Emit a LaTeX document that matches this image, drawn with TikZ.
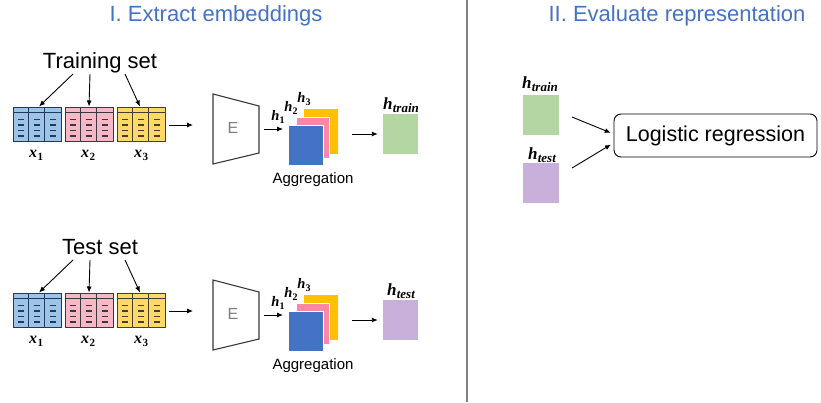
\documentclass[tikz,border=0pt]{standalone}
\usepackage{fontspec}
\setmainfont{Liberation Sans}
\newfontfamily\hfont{Liberation Serif}
\usetikzlibrary{arrows.meta}
\newcommand\mylabh[1]{{\hfont\bfseries\itshape\fontsize{17}{17}\selectfont h\kern0.3pt\raisebox{-3.5pt}{\fontsize{13}{13}\selectfont #1}}}
\newcommand\mylabk[1]{{\hfont\bfseries\itshape\fontsize{14.5}{14.5}\selectfont h\kern0.2pt\raisebox{-3pt}{\fontsize{10}{10}\selectfont\upshape #1}}}
\newcommand\mylabx[1]{{\hfont\bfseries\itshape\fontsize{16}{16}\selectfont x\kern0.5pt\raisebox{-3pt}{\fontsize{11}{11}\selectfont\upshape #1}}}
\definecolor{titleblue}{HTML}{4472C4}
\definecolor{tabblue}{HTML}{9DC3E6}
\definecolor{tabbluel}{HTML}{1F3A5F}
\definecolor{tabpink}{HTML}{F6B8C4}
\definecolor{tabpinkl}{HTML}{3F3540}
\definecolor{tabyel}{HTML}{FFD966}
\definecolor{tabyell}{HTML}{463E2C}
\definecolor{sqblue}{HTML}{4472C4}
\definecolor{sqpink}{HTML}{FF87A5}
\definecolor{sqyellow}{HTML}{FFC000}
\definecolor{sqgreen}{HTML}{B3D6A2}
\definecolor{sqpurple}{HTML}{C8B0DA}
\definecolor{divgray}{HTML}{808080}
\definecolor{egray}{HTML}{7F7F7F}
\definecolor{eline}{HTML}{3A3A3A}
\tikzset{
  pics/tabinner/.style={code={
    \draw[line width=0.8pt,#1] (0,6) -- (48,6) (16,0) -- (16,34) (32,0) -- (32,34);
    \foreach \cx in {8,24,40}{\foreach \ry in {13,18.5,24,29.5}{\draw[line width=1.5pt,#1] (\cx-3,\ry) -- (\cx+3,\ry);}}
  }},
}
\begin{document}
\begin{tikzpicture}[x=1pt,y=-1pt,
  arr/.style={line width=0.9pt,-{Latex[length=6pt,width=5pt]}},
  tab/.style={minimum width=48pt,minimum height=34pt,inner sep=0pt,line width=1pt,draw},
  sq/.style={inner sep=0pt,draw=white,line width=0.6pt},
  plainsq/.style={inner sep=0pt,minimum width=36pt,minimum height=40pt},
  title/.style={text=titleblue,font=\fontsize{22}{26}\selectfont,inner sep=0pt},
  big/.style={font=\fontsize{22}{26}\selectfont,inner sep=0pt},
  agg/.style={font=\fontsize{15}{18}\selectfont,inner sep=0pt},
  hlab/.style={inner sep=0pt},
  xlab/.style={inner sep=0pt},
  elab/.style={text=egray,font=\fontsize{16}{18}\selectfont,inner sep=0pt},
  encline/.style={draw=eline,line width=1.1pt,line join=miter},
  divider/.style={draw=divgray,line width=1.2pt},
  lrbox/.style={draw,line width=0.9pt,rounded corners=7pt,minimum width=203pt,minimum height=43pt,font=\fontsize{21.5}{24}\selectfont}
]
\useasboundingbox (0,0) rectangle (821,402);
\fill[white] (0,0) rectangle (821,402);

% titles and divider
\node[title,anchor=base] (t1) at (216,21) {I. Extract embeddings};
\node[title,anchor=base] (t2) at (677,21) {II. Evaluate representation};
\draw[divider] (467,0) -- (467,402);

\foreach \r/\dy/\txt/\hs/\hc in {a/0/Training set/train/sqgreen, b/186/Test set/test/sqpurple}{
\begin{scope}[shift={(0,\dy)}]
  \node[big,anchor=base] (\r set) at (100,68) {\txt};
  \node[tab,fill=tabblue,draw=tabbluel] (\r t1) at (37,124) {};
  \node[tab,fill=tabpink,draw=tabpinkl] (\r t2) at (89,124) {};
  \node[tab,fill=tabyel,draw=tabyell] (\r t3) at (141,124) {};
  \pic at (\r t1.north west) {tabinner=tabbluel};
  \pic at (\r t2.north west) {tabinner=tabpinkl};
  \pic at (\r t3.north west) {tabinner=tabyell};
  \node[xlab] (\r x1) at (36,155) {\mylabx{1}};
  \node[xlab] (\r x2) at (88,155) {\mylabx{2}};
  \node[xlab] (\r x3) at (141,155) {\mylabx{3}};
  \coordinate (\r s1) at (73,74);
  \coordinate (\r s2) at (90,74);
  \coordinate (\r s3) at (125,74);
  \draw[arr] (\r s1) -- ([xshift=2pt]\r t1.north);
  \draw[arr] (\r s2) -- (\r t2.north);
  \draw[arr] (\r s3) -- ([xshift=-1pt]\r t3.north);
  % encoder
  \draw[encline] (213,94) -- (259,106) -- (259,153) -- (213,164) -- cycle;
  \node[elab] (\r E) at (233,128) {E};
  \coordinate (\r ein) at (193,125);
  \coordinate (\r eout) at (264,129);
  \coordinate (\r hin) at (283,129);
  \draw[arr] ([xshift=3pt]\r t3.east |- \r ein) -- (\r ein);
  \draw[arr] (\r eout) -- (\r hin);
  % stacked embeddings
  \node[sq,fill=sqyellow,minimum width=35pt,minimum height=46pt] (\r y) at (320.5,131.5) {};
  \node[sq,fill=sqpink,minimum width=33pt,minimum height=41pt] (\r p) at (312.5,137.5) {};
  \node[sq,fill=sqblue,minimum width=35pt,minimum height=40pt] (\r b) at (305.5,145) {};
  \node[hlab] (\r h1) at (278,117) {\mylabk{1}};
  \node[hlab] (\r h2) at (291,108) {\mylabk{2}};
  \node[hlab] (\r h3) at (304,99) {\mylabk{3}};
  \node[agg,anchor=base] (\r agg) at (313,183) {Aggregation};
  % aggregated
  \node[plainsq,fill=\hc,minimum width=35pt] (\r g) at (400.5,134) {};
  \node[hlab] (\r gl) at (401,105) {\mylabh{\hs}};
  \coordinate (\r gin) at (352,134);
  \draw[arr,shorten >=5pt] (\r gin) -- (\r g.west);
\end{scope}
}

% right part
\node[plainsq,fill=sqgreen] (g2) at (541,115) {};
\node[plainsq,fill=sqpurple] (p2) at (541,183) {};
\node[hlab] (g2l) at (540,84) {\mylabh{train}};
\node[hlab] (p2l) at (542,155) {\mylabh{test}};
\node[lrbox] (lr) at (715.5,135.5) {Logistic regression};
\coordinate (r1) at (572,117);
\coordinate (r2) at (572,168);
\draw[arr,shorten >=3pt] (r1) -- ([yshift=1.5pt]lr.west);
\draw[arr,shorten >=3pt] (r2) -- ([yshift=-7.5pt]lr.west);
\end{tikzpicture}
\end{document}
